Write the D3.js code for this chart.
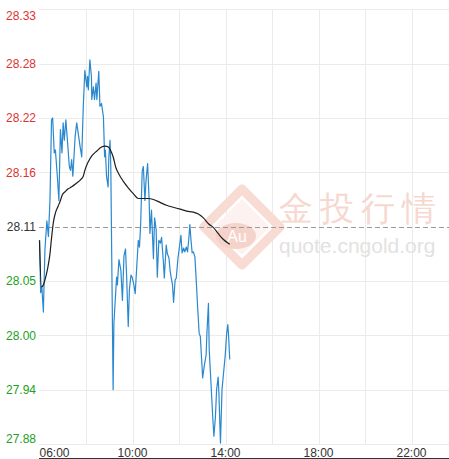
<!DOCTYPE html>
<html>
<head>
<meta charset="utf-8">
<script src="https://cdn.jsdelivr.net/npm/d3@7"></script>
<style>
  html, body { margin: 0; padding: 0; background: #fff; }
  svg { display: block; }
  text { font-family: "Liberation Sans", Arial, sans-serif; }
</style>
</head>
<body>
<svg id="chart" width="449" height="459"></svg>
<script>
// ---------- data ----------
const refPrice = 28.108;
const yTickValues = [28.332, 28.276, 28.220, 28.164, 28.108, 28.052, 27.996, 27.940, 27.884];
const yTickLabels = ["28.33", "28.28", "28.22", "28.16", "28.11", "28.05", "28.00", "27.94", "27.88"];
const xGridTimes = ["08:00", "10:00", "12:00", "14:00", "16:00", "18:00", "20:00", "22:00"];
const xTickLabels = ["06:00", "10:00", "14:00", "18:00", "22:00"];

const priceTimes = ["06:00","06:03","06:06","06:10","06:14","06:19","06:23","06:27","06:31","06:34",
  "06:38","06:41","06:46","06:50","06:54","06:58","07:01","07:04","07:08","07:12",
  "07:17","07:20","07:23","07:26","07:32","07:36","07:41","07:45","07:49","07:53",
  "07:57","08:02","08:04","08:06","08:10","08:14","08:15","08:19","08:22","08:26",
  "08:28","08:33","08:36","08:40","08:45","08:48","08:50","08:53","08:57","08:59",
  "09:02","09:04","09:10","09:12","09:16","09:19","09:21","09:25","09:30","09:34",
  "09:38","09:42","09:45","09:49","09:52","09:56","09:59","10:03","10:07","10:11",
  "10:15","10:18","10:21","10:25","10:28","10:32","10:35","10:39","10:43","10:45",
  "10:49","10:54","10:57","11:01","11:04","11:08","11:12","11:15","11:20","11:22",
  "11:27","11:30","11:34","11:37","11:40","11:43","11:46","11:50","11:53","11:57",
  "12:01","12:05","12:08","12:12","12:15","12:19","12:22","12:25","12:28","12:31",
  "12:34","12:37","12:41","12:44","12:48","12:52","12:55","12:59","13:01","13:05",
  "13:10","13:12","13:16","13:18","13:23","13:27","13:30","13:34","13:37","13:41",
  "13:43","13:47","13:51","13:54","13:59","14:03","14:06","14:08","14:11"];
const prices = [28.094,28.040,28.046,28.020,28.084,28.114,28.098,28.135,28.218,28.220,
  28.184,28.187,28.160,28.135,28.208,28.184,28.215,28.197,28.218,28.197,
  28.170,28.166,28.177,28.160,28.201,28.215,28.201,28.190,28.180,28.232,
  28.269,28.252,28.263,28.249,28.280,28.263,28.239,28.252,28.239,28.256,
  28.239,28.268,28.232,28.235,28.221,28.180,28.187,28.160,28.149,28.180,
  28.197,28.170,27.940,28.008,28.036,28.056,28.048,28.074,28.063,28.032,
  28.078,28.085,28.055,28.005,28.043,28.058,28.056,28.049,28.039,28.067,
  28.094,28.087,28.110,28.165,28.170,28.135,28.156,28.173,28.135,28.101,
  28.125,28.075,28.117,28.105,28.056,28.094,28.091,28.097,28.070,28.055,
  28.089,28.080,28.076,28.063,28.055,28.049,28.030,28.053,28.055,28.074,
  28.087,28.099,28.081,28.086,28.082,28.087,28.082,28.094,28.110,28.094,
  28.081,28.082,28.077,28.056,28.026,27.998,27.995,27.967,27.952,27.964,
  27.976,27.998,28.029,27.981,27.943,27.912,27.892,27.912,27.940,27.953,
  27.936,27.885,27.940,27.953,27.974,27.998,28.007,27.995,27.971];

const avgTimes = ["06:00","06:05","06:10","06:16","06:21","06:27","06:31","06:36","06:41","06:48",
  "06:54","06:59","07:06","07:14","07:23","07:36","07:45","07:53","07:57","08:06",
  "08:15","08:28","08:40","08:49","08:58","09:03","09:10","09:17","09:25","09:36",
  "09:49","10:02","10:15","10:28","10:41","10:54","11:11","11:28","11:45","12:03",
  "12:20","12:37","12:50","13:03","13:16","13:29","13:41","13:54","14:07","14:11"];
const avgPrices = [28.094,28.046,28.048,28.056,28.065,28.080,28.096,28.113,28.122,28.129,
  28.135,28.141,28.144,28.147,28.149,28.153,28.156,28.160,28.166,28.175,
  28.181,28.186,28.190,28.191,28.190,28.187,28.180,28.169,28.162,28.155,
  28.148,28.142,28.137,28.137,28.137,28.136,28.133,28.130,28.128,28.126,
  28.124,28.123,28.121,28.117,28.111,28.107,28.101,28.095,28.091,28.090];

// ---------- layout ----------
const W = 449, H = 459;
const plotLeft = 39, plotRight = 449, plotTop = 9.3, plotBottom = 444;
const parse = d3.timeParse("%H:%M");

const x = d3.scaleTime()
  .domain([parse("06:00"), parse("22:00")])
  .range([39.5, 411.5]);
const y = d3.scaleLinear()
  .domain([yTickValues[yTickValues.length - 1], yTickValues[0]])
  .range([plotBottom, plotTop]);

const svg = d3.select("#chart");

// grid
const grid = svg.append("g");
grid.selectAll("line.h").data(yTickValues).enter().append("line")
  .attr("x1", plotLeft).attr("x2", plotRight)
  .attr("y1", d => Math.round(y(d)) + 0.5).attr("y2", d => Math.round(y(d)) + 0.5)
  .attr("stroke", d => d === refPrice ? "none" : "#ebebeb").attr("stroke-width", 1);
grid.selectAll("line.v").data(xGridTimes).enter().append("line")
  .attr("x1", d => Math.round(x(parse(d))) + 0.5).attr("x2", d => Math.round(x(parse(d))) + 0.5)
  .attr("y1", plotTop).attr("y2", plotBottom)
  .attr("stroke", "#ebebeb").attr("stroke-width", 1);

// watermark
const wm = svg.append("g");
const cx = 242, cy = 227, r = 38;
wm.append("polygon")
  .attr("points", [[cx, cy - r], [cx + r, cy], [cx, cy + r], [cx - r, cy]].map(p => p.join(",")).join(" "))
  .attr("fill", "none").attr("stroke", "#f8dcd4").attr("stroke-width", 9)
  .attr("stroke-linejoin", "round");
wm.append("polygon")
  .attr("points", [[cx, cy - r + 10], [cx + r - 10, cy], [cx, cy + r - 10], [cx - r + 10, cy]].map(p => p.join(",")).join(" "))
  .attr("fill", "#fdf2ef");
wm.append("ellipse").attr("cx", 236).attr("cy", 236).attr("rx", 20).attr("ry", 13)
  .attr("fill", "#f6d3ca");
wm.append("text").attr("x", 237).attr("y", 242).attr("text-anchor", "middle")
  .attr("font-size", 16).attr("fill", "#ffffff").text("Au");
wm.append("text").attr("x", 279).attr("y", 220)
  .attr("font-size", 34).attr("letter-spacing", 7)
  .attr("font-family", "'Noto Sans CJK SC', sans-serif")
  .attr("fill", "#f6d8d0").text("金投行情");
wm.append("text").attr("x", 279).attr("y", 253)
  .attr("font-size", 21).attr("fill", "#e2e2e2").text("quote.cngold.org");

// reference dashed line
svg.append("line")
  .attr("x1", plotLeft).attr("x2", plotRight)
  .attr("y1", Math.round(y(refPrice)) + 0.5).attr("y2", Math.round(y(refPrice)) + 0.5)
  .attr("stroke", "#9a9a9a").attr("stroke-width", 1).attr("stroke-dasharray", "5,3");

// price line
const priceData = priceTimes.map((t, i) => ({ t: parse(t), v: prices[i] }));
svg.append("path").datum(priceData)
  .attr("fill", "none").attr("stroke", "#2a88cf").attr("stroke-width", 1.2)
  .attr("stroke-linejoin", "round")
  .attr("d", d3.line().x(d => x(d.t)).y(d => y(d.v)));

// average line
const avgData = avgTimes.map((t, i) => ({ t: parse(t), v: avgPrices[i] }));
svg.append("path").datum(avgData)
  .attr("fill", "none").attr("stroke", "#1e1e1e").attr("stroke-width", 1.2)
  .attr("d", d3.line().curve(d3.curveMonotoneX).x(d => x(d.t)).y(d => y(d.v)));

// y labels
svg.append("g").selectAll("text").data(yTickValues).enter().append("text")
  .attr("x", 36).attr("text-anchor", "end").attr("font-size", 12)
  .attr("y", d => Math.min(Math.max(y(d), 15.3), 439) + 4.2)
  .attr("fill", d => d > refPrice + 1e-9 ? "#dd3333" : (d < refPrice - 1e-9 ? "#22a022" : "#333333"))
  .text((d, i) => yTickLabels[i]);

// x labels
svg.append("g").selectAll("text").data(xTickLabels).enter().append("text")
  .attr("x", d => x(parse(d)))
  .attr("y", 456.5)
  .attr("text-anchor", (d, i) => i === 0 ? "start" : "middle")
  .attr("font-size", 12).attr("fill", "#333333")
  .text(d => d);

// bottom axis line
svg.append("line").attr("x1", plotLeft).attr("x2", W)
  .attr("y1", 458.5).attr("y2", 458.5).attr("stroke", "#333").attr("stroke-width", 1);
</script>
</body>
</html>
